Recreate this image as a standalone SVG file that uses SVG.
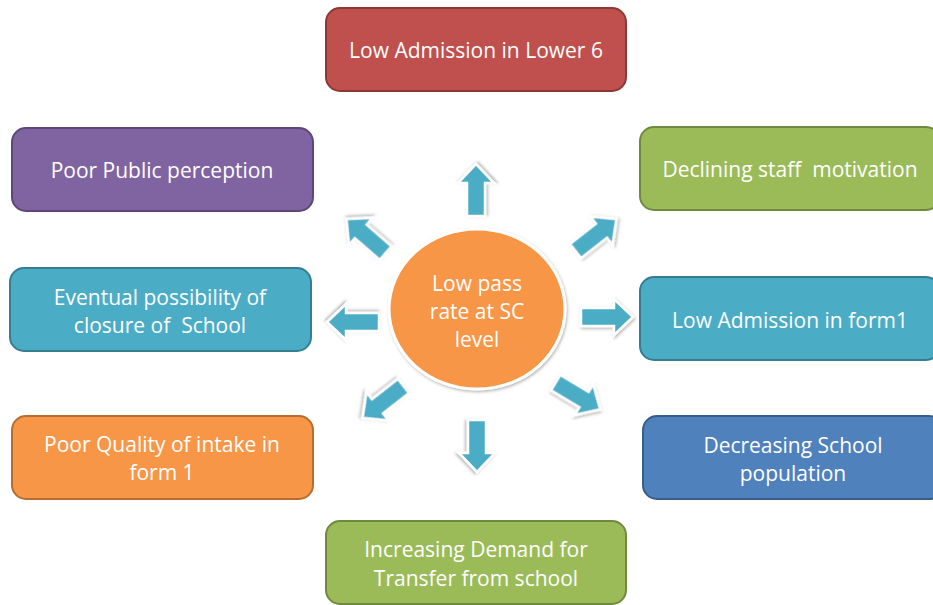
<svg xmlns="http://www.w3.org/2000/svg" width="933" height="605" viewBox="0 0 933 605">
<style>
.box{stroke-width:2}
.t{font-family:"Open Sans","Liberation Sans",sans-serif;font-size:21px;fill:#ffffff;text-anchor:middle;dominant-baseline:central;white-space:pre}
.arr{fill:#4BACC6;stroke:#ffffff;stroke-width:2.5;stroke-linejoin:miter;filter:url(#sh)}
</style>
<defs>
<filter id="sh" x="-30%" y="-30%" width="160%" height="160%">
<feDropShadow dx="1" dy="1.5" stdDeviation="1.5" flood-color="#000" flood-opacity="0.3"/>
</filter>
<path id="a" d="M-26,-9 L7,-9 L7,-18 L26,0 L7,18 L7,9 L-26,9 Z"/>
</defs>
<rect width="933" height="605" fill="#ffffff"/>
<g id="n-top"><rect class="box" x="326" y="8" width="300" height="83" rx="14" fill="#C0504D" stroke="#8C3836"/><text class="t" x="476" y="50">Low Admission in Lower 6</text></g>
<g id="n-public"><rect class="box" x="12" y="128" width="301" height="83" rx="14" fill="#8064A2" stroke="#5C4776"/><text class="t" x="162" y="170">Poor Public perception</text></g>
<g id="n-closure"><rect class="box" x="10" y="268" width="301" height="83" rx="14" fill="#4BACC6" stroke="#357D91"/><text class="t" x="160" y="297">Eventual possibility of</text><text class="t" x="160" y="325" xml:space="preserve">closure of  School</text></g>
<g id="n-intake"><rect class="box" x="12" y="416" width="301" height="83" rx="14" fill="#F79646" stroke="#B66D31"/><text class="t" x="162" y="444">Poor Quality of intake in</text><text class="t" x="162" y="472">form 1</text></g>
<g id="n-transfer"><rect class="box" x="326" y="521" width="300" height="83" rx="14" fill="#9BBB59" stroke="#71893F"/><text class="t" x="476" y="549">Increasing Demand for</text><text class="t" x="476" y="578">Transfer from school</text></g>
<g id="n-motivation"><rect class="box" x="640" y="127" width="300" height="83" rx="14" fill="#9BBB59" stroke="#71893F"/><text class="t" x="790" y="169" xml:space="preserve">Declining staff  motivation</text></g>
<g id="n-form1"><rect class="box" x="640" y="277" width="300" height="83" rx="14" fill="#4BACC6" stroke="#357D91"/><text class="t" x="790" y="320">Low Admission in form1</text></g>
<g id="n-population"><rect class="box" x="643" y="416" width="300" height="83" rx="14" fill="#4F81BD" stroke="#385D8A"/><text class="t" x="793" y="445">Decreasing School</text><text class="t" x="793" y="473">population</text></g>
<g id="connectors">
<use href="#a" class="arr" transform="translate(476,190) rotate(-90)"/>
<use href="#a" class="arr" transform="translate(477,446) rotate(90)"/>
<use href="#a" class="arr" transform="translate(353,322) rotate(180)"/>
<use href="#a" class="arr" transform="translate(607,317)"/>
<use href="#a" class="arr" transform="translate(366,236) rotate(-139)"/>
<use href="#a" class="arr" transform="translate(596,235) rotate(-38)"/>
<use href="#a" class="arr" transform="translate(383,402) rotate(142)"/>
<use href="#a" class="arr" transform="translate(578,396) rotate(31)"/>
</g>
<g id="n-center"><ellipse cx="477" cy="309" rx="88" ry="80" fill="#F79646" stroke="#ffffff" stroke-width="3" filter="url(#sh)"/><text class="t" x="477" y="283">Low pass</text><text class="t" x="477" y="311">rate at SC</text><text class="t" x="477" y="339">level</text></g>
</svg>
